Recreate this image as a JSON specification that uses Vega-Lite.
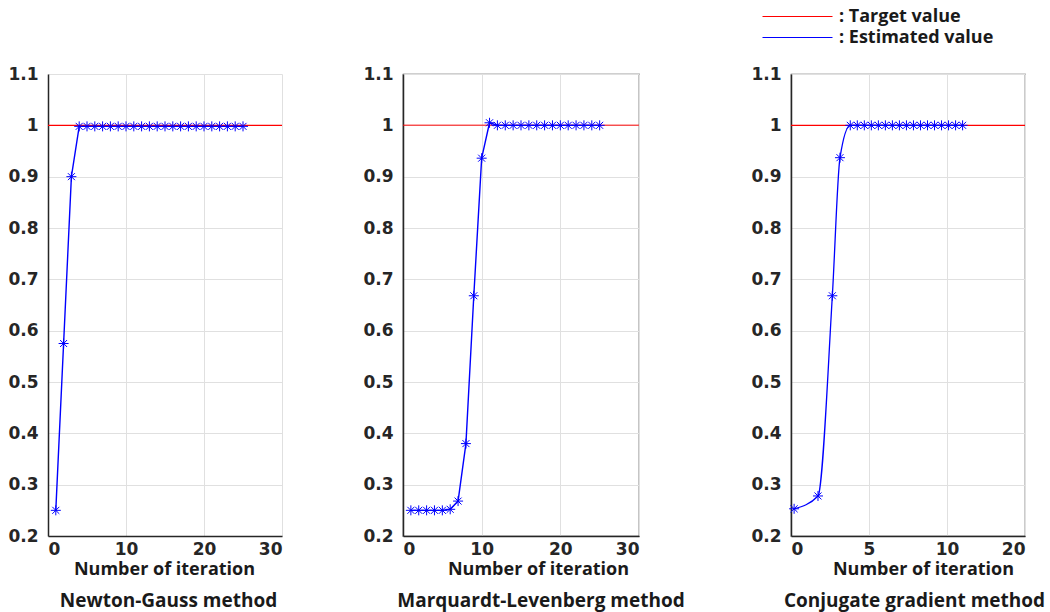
{
  "$schema": "https://vega.github.io/schema/vega-lite/v6.json",
  "background": "white",
  "padding": {"left": 7, "top": 6, "right": 0, "bottom": 0},
  "datasets": {
    "est": [
      {"method": "NG", "iter": 1, "value": 0.25},
      {"method": "NG", "iter": 2, "value": 0.575},
      {"method": "NG", "iter": 3, "value": 0.9},
      {"method": "NG", "iter": 4, "value": 0.998},
      {"method": "NG", "iter": 5, "value": 0.998},
      {"method": "NG", "iter": 6, "value": 0.998},
      {"method": "NG", "iter": 7, "value": 0.998},
      {"method": "NG", "iter": 8, "value": 0.998},
      {"method": "NG", "iter": 9, "value": 0.998},
      {"method": "NG", "iter": 10, "value": 0.998},
      {"method": "NG", "iter": 11, "value": 0.998},
      {"method": "NG", "iter": 12, "value": 0.998},
      {"method": "NG", "iter": 13, "value": 0.998},
      {"method": "NG", "iter": 14, "value": 0.998},
      {"method": "NG", "iter": 15, "value": 0.998},
      {"method": "NG", "iter": 16, "value": 0.998},
      {"method": "NG", "iter": 17, "value": 0.998},
      {"method": "NG", "iter": 18, "value": 0.998},
      {"method": "NG", "iter": 19, "value": 0.998},
      {"method": "NG", "iter": 20, "value": 0.998},
      {"method": "NG", "iter": 21, "value": 0.998},
      {"method": "NG", "iter": 22, "value": 0.998},
      {"method": "NG", "iter": 23, "value": 0.998},
      {"method": "NG", "iter": 24, "value": 0.998},
      {"method": "NG", "iter": 25, "value": 0.998},
      {"method": "ML", "iter": 1, "value": 0.25},
      {"method": "ML", "iter": 2, "value": 0.25},
      {"method": "ML", "iter": 3, "value": 0.25},
      {"method": "ML", "iter": 4, "value": 0.25},
      {"method": "ML", "iter": 5, "value": 0.25},
      {"method": "ML", "iter": 6, "value": 0.252},
      {"method": "ML", "iter": 7, "value": 0.268},
      {"method": "ML", "iter": 8, "value": 0.38},
      {"method": "ML", "iter": 9, "value": 0.668},
      {"method": "ML", "iter": 10, "value": 0.936},
      {"method": "ML", "iter": 11, "value": 1.005},
      {"method": "ML", "iter": 12, "value": 1.0},
      {"method": "ML", "iter": 13, "value": 1.0},
      {"method": "ML", "iter": 14, "value": 1.0},
      {"method": "ML", "iter": 15, "value": 1.0},
      {"method": "ML", "iter": 16, "value": 1.0},
      {"method": "ML", "iter": 17, "value": 1.0},
      {"method": "ML", "iter": 18, "value": 1.0},
      {"method": "ML", "iter": 19, "value": 1.0},
      {"method": "ML", "iter": 20, "value": 1.0},
      {"method": "ML", "iter": 21, "value": 1.0},
      {"method": "ML", "iter": 22, "value": 1.0},
      {"method": "ML", "iter": 23, "value": 1.0},
      {"method": "ML", "iter": 24, "value": 1.0},
      {"method": "ML", "iter": 25, "value": 1.0},
      {"method": "CG", "iter": 0.2, "value": 0.253},
      {"method": "CG", "iter": 1.73, "value": 0.278},
      {"method": "CG", "iter": 2.65, "value": 0.668},
      {"method": "CG", "iter": 3.14, "value": 0.937},
      {"method": "CG", "iter": 3.8, "value": 1.0},
      {"method": "CG", "iter": 4.25, "value": 1.0},
      {"method": "CG", "iter": 4.7, "value": 1.0},
      {"method": "CG", "iter": 5.15, "value": 1.0},
      {"method": "CG", "iter": 5.6, "value": 1.0},
      {"method": "CG", "iter": 6.05, "value": 1.0},
      {"method": "CG", "iter": 6.5, "value": 1.0},
      {"method": "CG", "iter": 6.95, "value": 1.0},
      {"method": "CG", "iter": 7.4, "value": 1.0},
      {"method": "CG", "iter": 7.85, "value": 1.0},
      {"method": "CG", "iter": 8.3, "value": 1.0},
      {"method": "CG", "iter": 8.75, "value": 1.0},
      {"method": "CG", "iter": 9.2, "value": 1.0},
      {"method": "CG", "iter": 9.65, "value": 1.0},
      {"method": "CG", "iter": 10.1, "value": 1.0},
      {"method": "CG", "iter": 10.55, "value": 1.0},
      {"method": "CG", "iter": 11.0, "value": 1.0}
    ],
    "target": [{"target": 1}],
    "blank": [{"a": 0}]
  },
  "config": {
    "view": {"stroke": null},
    "axis": {
      "labelFont": "DejaVu Sans",
      "labelFontSize": 17,
      "labelFontWeight": "bold",
      "labelColor": "#262626",
      "domainColor": "#262626",
      "domainWidth": 1.5,
      "gridColor": "#e0e0e0",
      "gridWidth": 1,
      "ticks": false,
      "titleFont": "Open Sans",
      "titleFontSize": 18,
      "titleFontWeight": "bold",
      "titleColor": "#1a1a1a"
    },
    "legend": {
      "orient": "none",
      "legendX": 739,
      "legendY": -68,
      "symbolType": "M-3.5,0L3.5,0",
      "symbolSize": 400,
      "symbolStrokeWidth": 1,
      "labelFont": "Open Sans",
      "labelFontSize": 18,
      "labelFontWeight": "bold",
      "labelColor": "#1a1a1a",
      "labelOffset": 31,
      "labelLimit": 400,
      "rowPadding": 1,
      "padding": 0,
      "title": null
    }
  },
  "bounds": "flush",
  "spacing": 0,
  "hconcat": [
    {
      "width": 234,
      "height": 462,
      "title": {"text": "Newton-Gauss method", "orient": "bottom", "anchor": "middle", "dx": 3.5, "offset": 14, "font": "Open Sans", "fontSize": 19, "fontWeight": "bold", "color": "#1a1a1a"},
      "layer": [
        {
          "data": {"name": "target"},
          "mark": {"type": "rule", "strokeWidth": 1.2},
          "encoding": {
            "y": {"field": "target", "type": "quantitative", "scale": {"domain": [0.2, 1.1], "zero": false}},
            "color": {
              "datum": "Target value",
              "scale": {"domain": ["Target value", "Estimated value"], "range": ["#ff0000", "#0000ff"]},
              "legend": {
                "labelExpr": "datum.label == 'Target value' ? ': Target value' : ':  Estimated value'",
                "encode": {"symbols": {"update": {"stroke": {"scale": "color", "field": "value"}, "fill": {"value": "transparent"}, "strokeWidth": {"value": 1}}}}
              }
            }
          }
        },
        {
          "data": {"name": "est"},
          "transform": [{"filter": "datum.method === 'NG'"}],
          "mark": {"type": "line", "strokeWidth": 1.4},
          "encoding": {
            "x": {"field": "iter", "type": "quantitative", "scale": {"domain": [0, 30], "nice": false}, "axis": {"values": [0, 10, 20, 30], "title": "Number of iteration", "labelPadding": 5, "titlePadding": 3, "titleX": 116}},
            "y": {"field": "value", "type": "quantitative", "scale": {"domain": [0.2, 1.1], "zero": false, "nice": false}, "axis": {"values": [0.2, 0.3, 0.4, 0.5, 0.6, 0.7, 0.8, 0.9, 1, 1.1], "format": "~g", "title": null, "labelPadding": 10}},
            "color": {"datum": "Estimated value"}
          }
        },
        {
          "data": {"name": "est"},
          "transform": [{"filter": "datum.method === 'NG'"}],
          "mark": {"type": "point", "shape": "M0,-1L0,1M-1,0L1,0M-0.7,-0.7L0.7,0.7M-0.7,0.7L0.7,-0.7", "filled": false, "color": "#0000ff", "strokeWidth": 1, "size": 100, "opacity": 1},
          "encoding": {
            "x": {"field": "iter", "type": "quantitative"},
            "y": {"field": "value", "type": "quantitative"}
          }
        }
      ]
    },
    {
      "width": 121,
      "height": 462,
      "data": {"name": "blank"},
      "mark": {"type": "text", "text": ""}
    },
    {
      "width": 236,
      "height": 462,
      "view": {"stroke": "#404040", "strokeWidth": 1.2},
      "title": {"text": "Marquardt-Levenberg method", "orient": "bottom", "anchor": "middle", "dx": 20, "offset": 14, "font": "Open Sans", "fontSize": 19, "fontWeight": "bold", "color": "#1a1a1a"},
      "layer": [
        {
          "data": {"name": "target"},
          "mark": {"type": "rule", "strokeWidth": 1.5, "opacity": 0.65},
          "encoding": {
            "y": {"field": "target", "type": "quantitative"},
            "color": {"datum": "Target value"}
          }
        },
        {
          "data": {"name": "est"},
          "transform": [{"filter": "datum.method === 'ML'"}],
          "mark": {"type": "line", "strokeWidth": 1.4},
          "encoding": {
            "x": {"field": "iter", "type": "quantitative", "scale": {"domain": [0, 30], "nice": false}, "axis": {"values": [0, 10, 20, 30], "title": "Number of iteration", "labelPadding": 5, "titlePadding": 3, "titleX": 135}},
            "y": {"field": "value", "type": "quantitative", "scale": {"domain": [0.2, 1.1], "zero": false, "nice": false}, "axis": {"values": [0.2, 0.3, 0.4, 0.5, 0.6, 0.7, 0.8, 0.9, 1, 1.1], "format": "~g", "title": null, "labelPadding": 10}},
            "color": {"datum": "Estimated value"}
          }
        },
        {
          "data": {"name": "est"},
          "transform": [{"filter": "datum.method === 'ML'"}],
          "mark": {"type": "point", "shape": "M0,-1L0,1M-1,0L1,0M-0.7,-0.7L0.7,0.7M-0.7,0.7L0.7,-0.7", "filled": false, "color": "#0000ff", "strokeWidth": 1, "size": 100, "opacity": 1},
          "encoding": {
            "x": {"field": "iter", "type": "quantitative"},
            "y": {"field": "value", "type": "quantitative"}
          }
        }
      ]
    },
    {
      "width": 152,
      "height": 462,
      "data": {"name": "blank"},
      "mark": {"type": "text", "text": ""}
    },
    {
      "width": 234,
      "height": 462,
      "view": {"stroke": "#555555", "strokeWidth": 1.2},
      "title": {"text": "Conjugate gradient method", "orient": "bottom", "anchor": "middle", "dx": 6.5, "offset": 14, "font": "Open Sans", "fontSize": 19, "fontWeight": "bold", "color": "#1a1a1a"},
      "layer": [
        {
          "data": {"name": "target"},
          "mark": {"type": "rule", "strokeWidth": 1.2},
          "encoding": {
            "y": {"field": "target", "type": "quantitative"},
            "color": {"datum": "Target value"}
          }
        },
        {
          "data": {"name": "est"},
          "transform": [{"filter": "datum.method === 'CG'"}],
          "mark": {"type": "line", "strokeWidth": 1.3, "interpolate": "monotone"},
          "encoding": {
            "x": {"field": "iter", "type": "quantitative", "scale": {"domain": [0, 15], "nice": false}, "axis": {"values": [0, 5, 10, 15], "labelExpr": "datum.value == 15 ? '20' : datum.label", "title": "Number of iteration", "labelPadding": 5, "titlePadding": 3, "titleX": 132}},
            "y": {"field": "value", "type": "quantitative", "scale": {"domain": [0.2, 1.1], "zero": false, "nice": false}, "axis": {"values": [0.2, 0.3, 0.4, 0.5, 0.6, 0.7, 0.8, 0.9, 1, 1.1], "format": "~g", "title": null, "labelPadding": 10}},
            "color": {"datum": "Estimated value"}
          }
        },
        {
          "data": {"name": "est"},
          "transform": [{"filter": "datum.method === 'CG'"}],
          "mark": {"type": "point", "shape": "M0,-1L0,1M-1,0L1,0M-0.7,-0.7L0.7,0.7M-0.7,0.7L0.7,-0.7", "filled": false, "color": "#0000ff", "strokeWidth": 1, "size": 100, "opacity": 1},
          "encoding": {
            "x": {"field": "iter", "type": "quantitative"},
            "y": {"field": "value", "type": "quantitative"}
          }
        }
      ]
    }
  ]
}
